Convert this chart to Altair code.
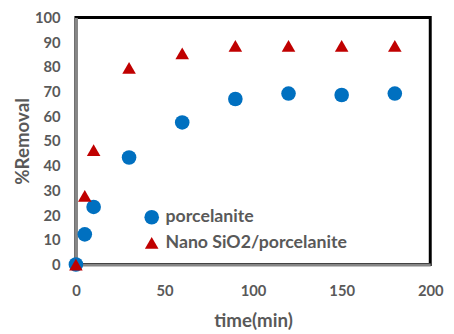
import altair as alt
import pandas as pd

time_min = [0, 5, 10, 30, 60, 90, 120, 150, 180]
porcelanite = [0, 12.2, 23.3, 43.3, 57.5, 67.0, 69.2, 68.6, 69.2]
nano = [0, 27.8, 46.3, 79.6, 85.5, 88.5, 88.5, 88.5, 88.5]
series_names = ["porcelanite", "Nano SiO2/porcelanite"]

rows = []
for t, v in zip(time_min, porcelanite):
    rows.append({"time": t, "removal": v, "series": series_names[0]})
for t, v in zip(time_min, nano):
    rows.append({"time": t, "removal": v, "series": series_names[1]})
df = pd.DataFrame(rows)

FONT = "Lato"
GRAY = "#595959"

chart = alt.Chart(df).mark_point(filled=True, opacity=1, clip=False).encode(
    x=alt.X("time:Q", scale=alt.Scale(domain=[0, 200], nice=False),
            axis=alt.Axis(values=[0, 50, 100, 150, 200], title="time(min)")),
    y=alt.Y("removal:Q", scale=alt.Scale(domain=[0, 100], nice=False),
            axis=alt.Axis(values=list(range(0, 101, 10)), title="%Removal")),
    color=alt.Color("series:N", scale=alt.Scale(domain=series_names, range=["#0070C0", "#C00000"]),
                    legend=alt.Legend(title=None, orient="none", legendX=68, legendY=194,
                                      labelFont=FONT, labelFontSize=18, labelFontWeight="bold",
                                      labelColor=GRAY, symbolSize=95, rowPadding=8, labelLimit=400,
                                      symbolOffset=0, labelOffset=5)),
    shape=alt.Shape("series:N", scale=alt.Scale(domain=series_names, range=["circle", "triangle-up"]),
                    legend=None),
    size=alt.Size("series:N", scale=alt.Scale(domain=series_names, range=[220, 190]), legend=None),
    order=alt.Order("series:N", sort="descending"),
).properties(
    width=360, height=251,
    autosize=alt.AutoSizeParams(type="none"),
    padding={"left": 69, "top": 7, "right": 16, "bottom": 68},
).configure_view(
    stroke="black", strokeWidth=3
).configure_axis(
    grid=False, ticks=False, domainColor="#868686", domainWidth=3, labelFlush=False,
    labelFont=FONT, labelFontSize=15, labelFontWeight="bold", labelColor=GRAY,
    titleFont=FONT, titleFontSize=19, titleFontWeight="bold", titleColor=GRAY,
).configure_axisX(
    labelPadding=19, titlePadding=14
).configure_axisY(
    labelPadding=16, titlePadding=2
)

chart.save("out.html", embed_options={"renderer": "svg", "actions": False})
